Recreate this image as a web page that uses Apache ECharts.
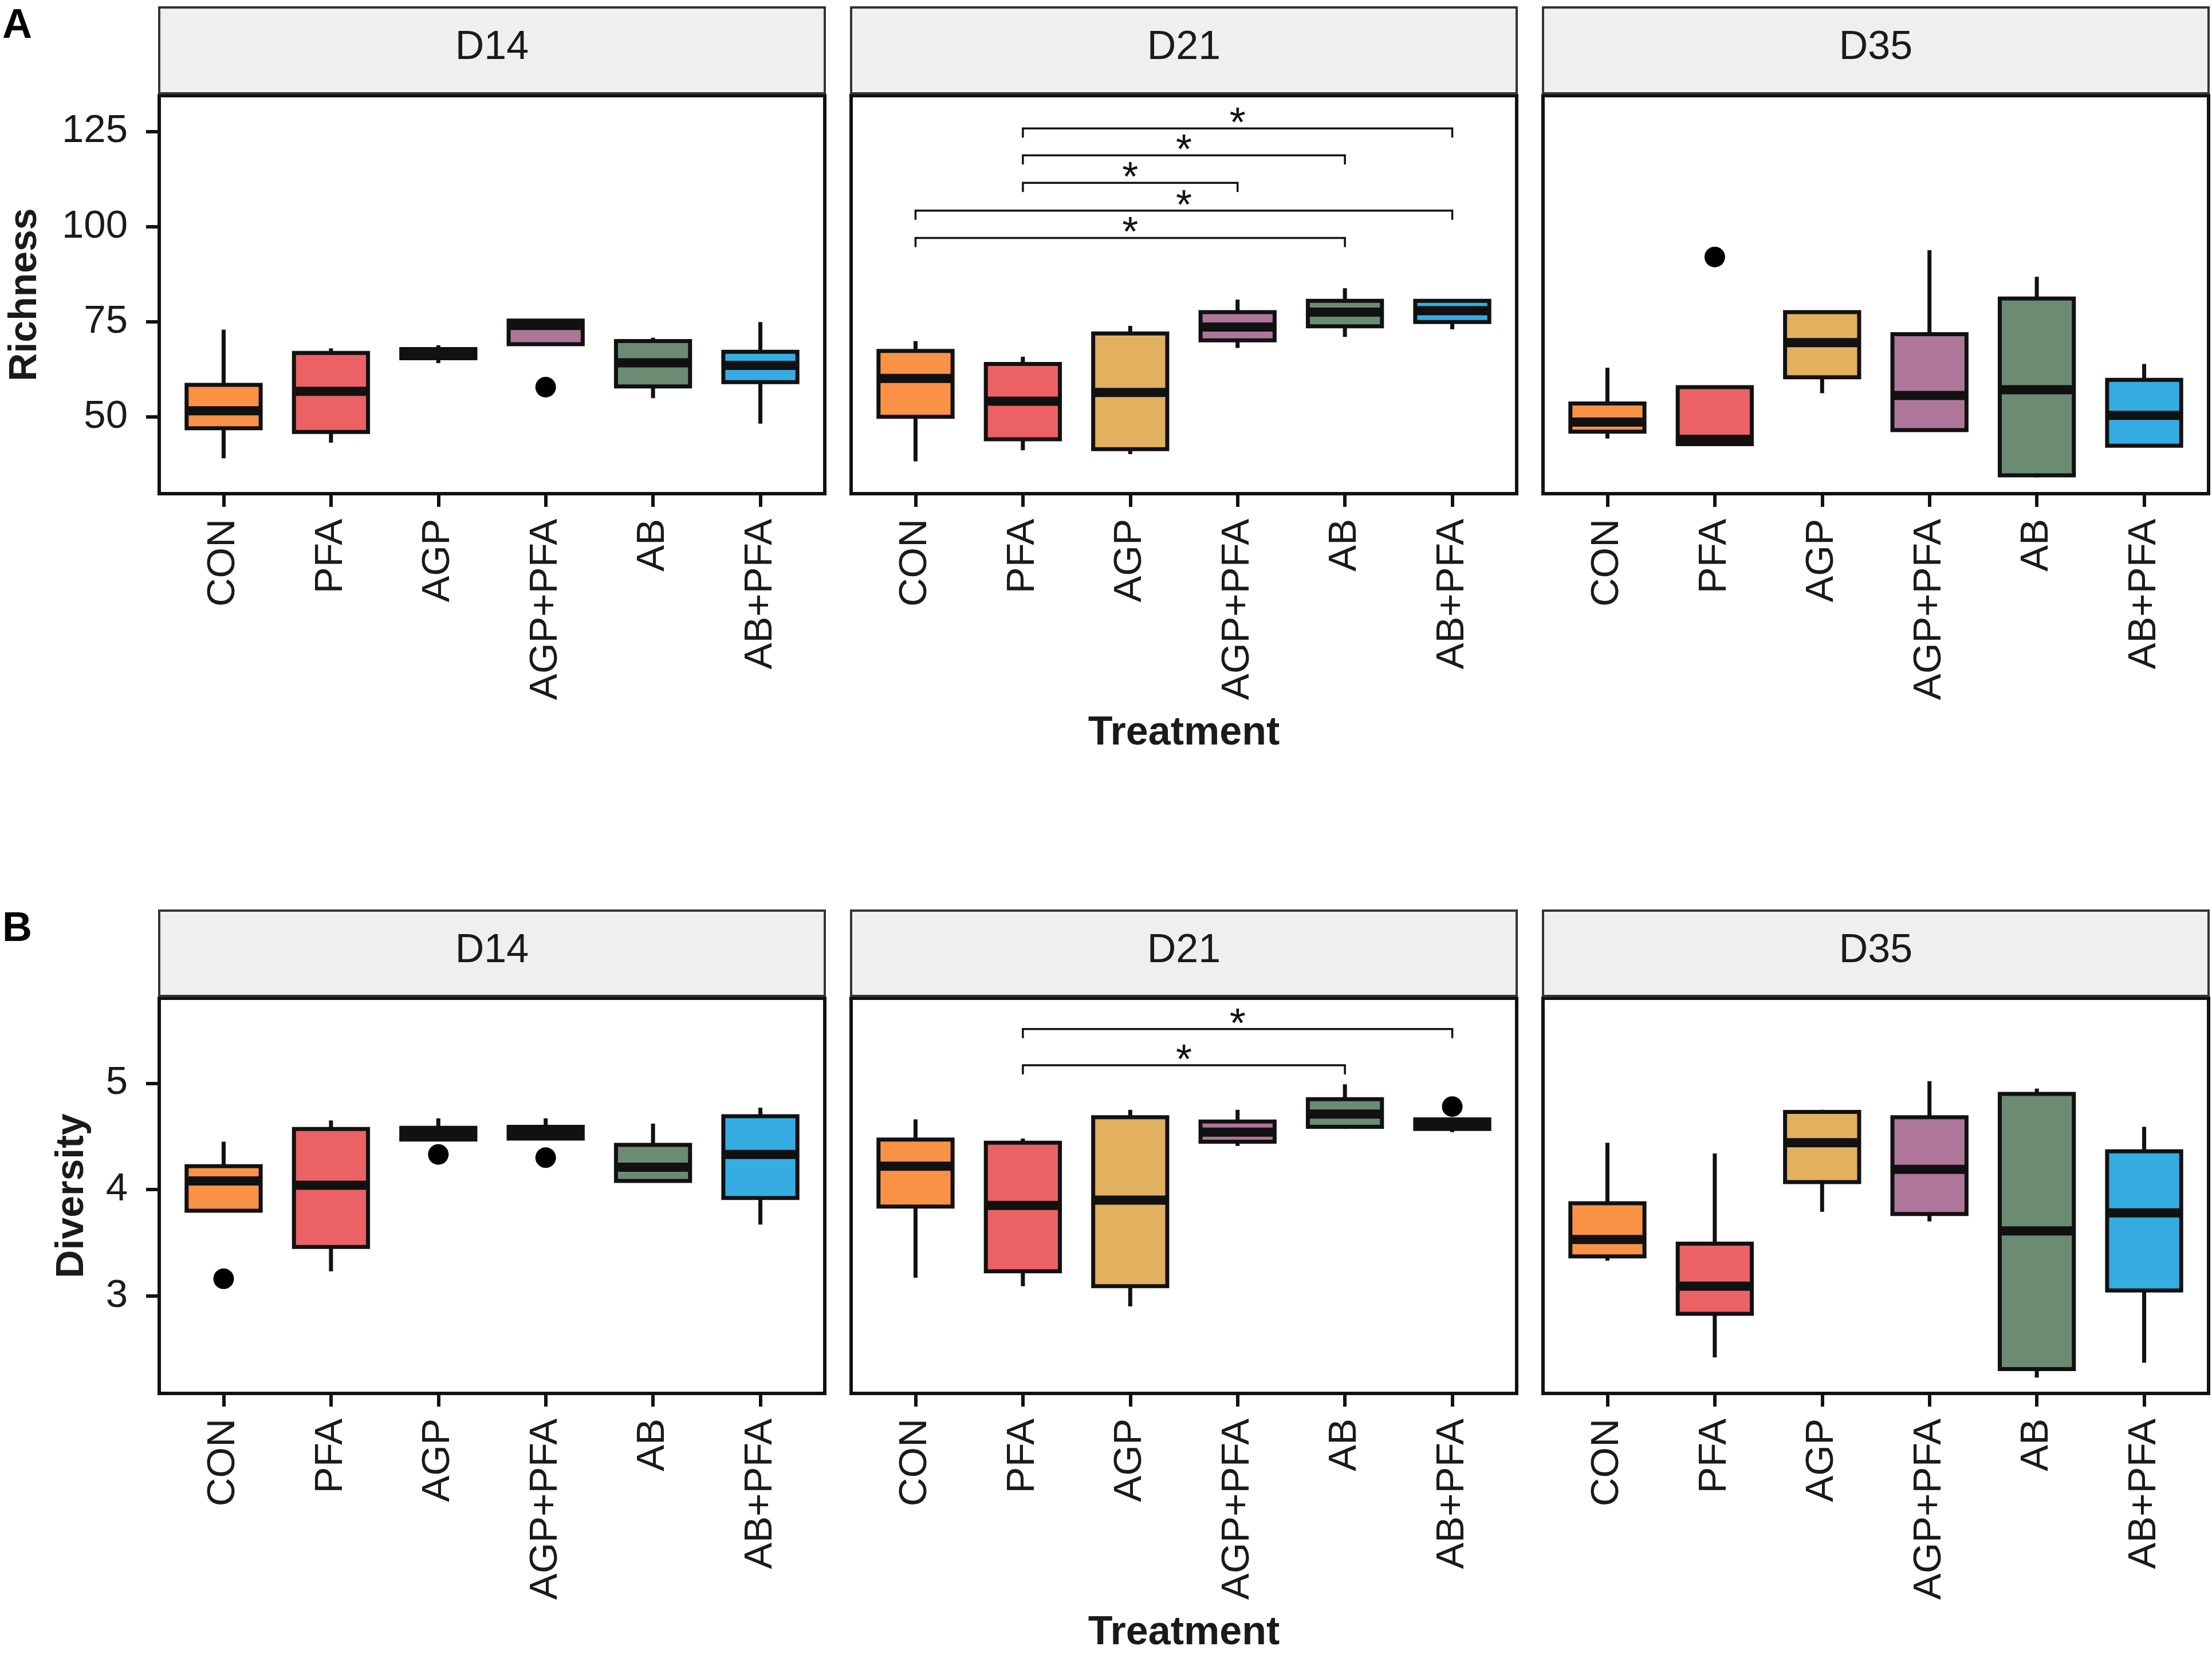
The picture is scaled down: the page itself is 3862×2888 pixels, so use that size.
<!DOCTYPE html>
<html><head><meta charset="utf-8">
<script src="https://cdn.jsdelivr.net/npm/echarts@6/dist/echarts.min.js"></script>
<style>html,body{margin:0;padding:0;background:#fff}#c{width:3862px;height:2888px}</style>
</head><body><div id="c"></div>
<script>
const categories = ['CON', 'PFA', 'AGP', 'AGP+PFA', 'AB', 'AB+PFA'];
const days = ['D14', 'D21', 'D35'];
const boxColors = ['#FA9246', '#EC6264', '#E2B160', '#AE7799', '#6B8B72', '#35ADE3'];
const richTicks = [50, 75, 100, 125];
const divTicks = [3, 4, 5];

// each box: [lower whisker, Q1, median, Q3, upper whisker]
const richD14 = [[39.1, 47.0, 51.6, 58.4, 72.9], [43.2, 46.0, 56.7, 66.8, 68.0], [64.1, 65.4, 66.5, 67.8, 68.8], [69.1, 69.1, 74.0, 75.3, 75.3], [54.9, 58.0, 64.2, 69.9, 70.8], [48.2, 59.1, 63.5, 67.1, 74.9]];
const richD21 = [[38.3, 50.0, 60.1, 67.3, 69.9], [41.2, 44.1, 54.1, 63.9, 65.8], [40.2, 41.5, 56.4, 71.9, 73.9], [68.1, 70.1, 73.6, 77.5, 80.8], [71.0, 73.8, 77.5, 80.5, 83.8], [73.0, 74.9, 77.9, 80.5, 80.7]];
const richD35 = [[44.3, 46.1, 48.6, 53.5, 62.9], [42.8, 42.8, 44.1, 57.8, 57.8], [56.2, 60.4, 69.5, 77.5, 77.8], [46.3, 46.5, 55.6, 71.7, 93.8], [34.1, 34.6, 57.1, 81.1, 86.8], [42.2, 42.4, 50.4, 59.7, 63.9]];
const divD14 = [[3.80, 3.80, 4.08, 4.22, 4.45], [3.23, 3.46, 4.04, 4.57, 4.65], [4.47, 4.47, 4.53, 4.58, 4.67], [4.48, 4.48, 4.53, 4.59, 4.67], [4.07, 4.08, 4.21, 4.42, 4.62], [3.67, 3.92, 4.33, 4.69, 4.77]];
const divD21 = [[3.17, 3.84, 4.22, 4.47, 4.66], [3.09, 3.23, 3.85, 4.44, 4.48], [2.90, 3.09, 3.90, 4.68, 4.75], [4.41, 4.45, 4.54, 4.64, 4.75], [4.57, 4.59, 4.71, 4.85, 4.99], [4.54, 4.57, 4.61, 4.66, 4.66]];
const divD35 = [[3.33, 3.37, 3.53, 3.87, 4.44], [2.42, 2.83, 3.09, 3.49, 4.34], [3.79, 4.07, 4.44, 4.73, 4.75], [3.70, 3.77, 4.19, 4.68, 5.02], [2.23, 2.31, 3.61, 4.90, 4.95], [2.37, 3.05, 3.78, 4.36, 4.59]];

// outliers: [category index, value]
const richOutD14 = [[3, 57.8]];
const richOutD21 = [];
const richOutD35 = [[1, 92.0]];
const divOutD14 = [[0, 3.16], [2, 4.33], [3, 4.30]];
const divOutD21 = [[5, 4.78]];
const divOutD35 = [];

// significance brackets: [from index, to index, y level]
const richSigD21 = [[1, 5, 125.8], [1, 4, 118.7], [1, 3, 111.5], [0, 5, 104.2], [0, 4, 97.0]];
const divSigD21 = [[1, 5, 5.51], [1, 4, 5.17]];

const FONT = '"Liberation Sans", Arial, Helvetica, sans-serif';
const INK = '#111';
const panelX = [278, 1486, 2694];
const panelW = 1162;
const catIdx = categories.map((c, i) => i);

const rows = [
  { stats: [richD14, richD21, richD35], out: [richOutD14, richOutD21, richOutD35], sig: [null, richSigD21, null],
    min: 29.8, max: 134.4, ticks: richTicks, top: 167, bottom: 862, stripTop: 13,
    title: 'Richness', titleX: 44, letter: 'A', letterY: 46, treatY: 1281 },
  { stats: [divD14, divD21, divD35], out: [divOutD14, divOutD21, divOutD35], sig: [null, divSigD21, null],
    min: 2.081, max: 5.80, ticks: divTicks, top: 1743, bottom: 2433, stripTop: 1590,
    title: 'Diversity', titleX: 126, letter: 'B', letterY: 1623, treatY: 2852 }
];

function renderBox(params, api) {
  const i = api.value(0);
  const lo = api.coord([i, api.value(1)]);
  const q1 = api.coord([i, api.value(2)]);
  const md = api.coord([i, api.value(3)]);
  const q3 = api.coord([i, api.value(4)]);
  const hi = api.coord([i, api.value(5)]);
  const hw = api.size([0.69, 0])[0] / 2;
  const x = lo[0];
  const ls = { stroke: INK, lineWidth: 7 };
  return { type: 'group', children: [
    { type: 'line', shape: { x1: x, y1: q3[1], x2: x, y2: hi[1] }, style: ls },
    { type: 'line', shape: { x1: x, y1: q1[1], x2: x, y2: lo[1] }, style: ls },
    { type: 'rect', shape: { x: x - hw, y: q3[1], width: 2 * hw, height: q1[1] - q3[1] },
      style: { fill: boxColors[i], stroke: INK, lineWidth: 7 } },
    { type: 'line', shape: { x1: x - hw, y1: md[1], x2: x + hw, y2: md[1] }, style: { stroke: INK, lineWidth: 16 } }
  ] };
}

function renderSig(params, api) {
  const a = api.coord([api.value(0), api.value(2)]);
  const b = api.coord([api.value(1), api.value(2)]);
  const tip = 16;
  return { type: 'group', children: [
    { type: 'polyline', shape: { points: [[a[0], a[1] + tip], [a[0], a[1]], [b[0], b[1]], [b[0], b[1] + tip]] },
      style: { stroke: INK, lineWidth: 3.5, fill: null } },
    { type: 'text', x: (a[0] + b[0]) / 2, y: a[1] - 6,
      style: { text: '*', fontSize: 72, fontFamily: FONT, fill: INK, textAlign: 'center', textVerticalAlign: 'middle' } }
  ] };
}

const grid = [], xAxis = [], yAxis = [], series = [], graphic = [];
rows.forEach((row, r) => {
  for (let p = 0; p < 3; p++) {
    const g = r * 3 + p;
    grid.push({ left: panelX[p], top: row.top, width: panelW, height: row.bottom - row.top,
      show: true, borderColor: INK, borderWidth: 6, backgroundColor: '#fff',
      containLabel: false, outerBoundsMode: 'none' });
    xAxis.push({ gridIndex: g, type: 'value', min: -0.6, max: 5.6,
      axisLine: { show: false, onZero: false }, splitLine: { show: false },
      axisTick: { show: true, length: 23, customValues: catIdx, lineStyle: { color: INK, width: 6 } },
      axisLabel: { show: true, customValues: catIdx, formatter: v => categories[Math.round(v)],
        rotate: 90, margin: 44, fontSize: 69, fontFamily: FONT, color: '#1a1a1a' } });
    yAxis.push({ gridIndex: g, type: 'value', min: row.min, max: row.max,
      axisLine: { show: false, onZero: false }, splitLine: { show: false },
      axisTick: { show: p === 0, length: 23, customValues: row.ticks, lineStyle: { color: INK, width: 6 } },
      axisLabel: { show: p === 0, customValues: row.ticks, margin: 55, fontSize: 69, fontFamily: FONT, color: '#1a1a1a' } });
    series.push({ type: 'custom', xAxisIndex: g, yAxisIndex: g, renderItem: renderBox, z: 2,
      encode: { x: 0, y: [1, 2, 3, 4, 5] }, silent: true,
      data: row.stats[p].map((s, i) => [i].concat(s)) });
    series.push({ type: 'scatter', xAxisIndex: g, yAxisIndex: g, data: row.out[p], symbolSize: 36,
      itemStyle: { color: '#000', opacity: 1 }, z: 3, silent: true });
    if (row.sig[p]) {
      series.push({ type: 'custom', xAxisIndex: g, yAxisIndex: g, renderItem: renderSig, z: 4,
        encode: { x: [0, 1], y: 2 }, silent: true, data: row.sig[p] });
    }
    graphic.push({ type: 'rect', z: 10, shape: { x: panelX[p], y: row.stripTop, width: panelW, height: row.top - 4 - row.stripTop },
      style: { fill: '#EFEFEF', stroke: '#333', lineWidth: 4 } });
    graphic.push({ type: 'text', z: 11, x: panelX[p] + panelW / 2, y: (row.stripTop + row.top) / 2 - 6,
      style: { text: days[p], fontSize: 70, fontFamily: FONT, fill: '#1a1a1a', textAlign: 'center', textVerticalAlign: 'middle' } });
  }
  graphic.push({ type: 'text', z: 11, x: row.titleX, y: (row.top + row.bottom) / 2, rotation: Math.PI / 2,
    style: { text: row.title, fontSize: 68, fontWeight: 'bold', fontFamily: FONT, fill: '#1a1a1a', textAlign: 'center', textVerticalAlign: 'middle' } });
  graphic.push({ type: 'text', z: 11, x: panelX[1] + panelW / 2, y: row.treatY,
    style: { text: 'Treatment', fontSize: 70, fontWeight: 'bold', fontFamily: FONT, fill: '#1a1a1a', textAlign: 'center', textVerticalAlign: 'middle' } });
  graphic.push({ type: 'text', z: 11, x: 4, y: row.letterY,
    style: { text: row.letter, fontSize: 72, fontWeight: 'bold', fontFamily: FONT, fill: '#000', textAlign: 'left', textVerticalAlign: 'middle' } });
});

const chart = echarts.init(document.getElementById('c'), null, { renderer: 'canvas' });
chart.setOption({ backgroundColor: '#fff', animation: false, grid, xAxis, yAxis, series, graphic });
</script>
</body></html>
